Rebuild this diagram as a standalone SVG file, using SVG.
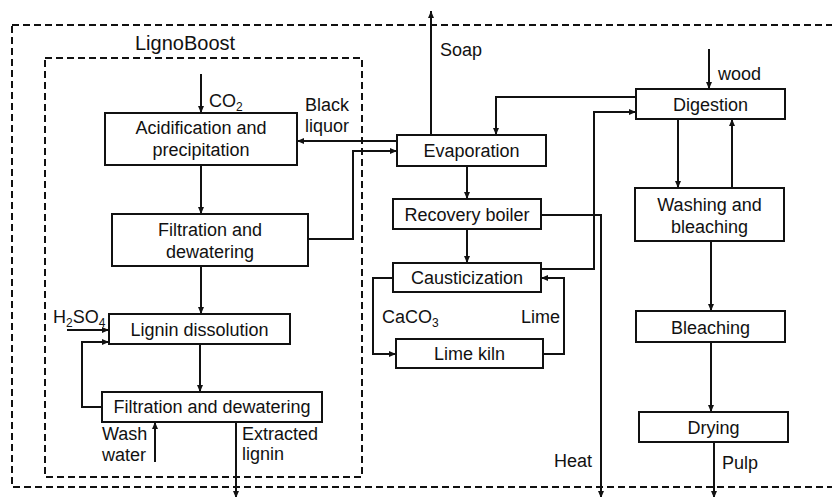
<svg xmlns="http://www.w3.org/2000/svg" width="832" height="497" viewBox="0 0 832 497">
<defs>
<marker id="ah" markerWidth="8" markerHeight="7" refX="7" refY="3.5" orient="auto" markerUnits="userSpaceOnUse">
<path d="M0,0.5 L7,3.5 L0,6.5 z" fill="#111"/>
</marker>
<style>
text{font-family:"Liberation Sans",Arial,sans-serif;font-size:18px;fill:#111}
.c{text-anchor:middle}
.box{fill:#fff;stroke:#111;stroke-width:2}
.dash{fill:none;stroke:#111;stroke-width:2;stroke-dasharray:7 4}
.ln{fill:none;stroke:#111;stroke-width:2}
.ar{fill:none;stroke:#111;stroke-width:2;marker-end:url(#ah)}
.sub{font-size:12px}
</style>
</defs>
<rect width="832" height="497" fill="#fff"/>
<g id="boundaries">
<rect class="dash" x="12" y="25" width="840" height="462"/>
<rect class="dash" x="45" y="58" width="317" height="419"/>
<text x="135" y="50" style="font-size:20px">LignoBoost</text>
</g>
<g id="connectors">
<path class="ar" d="M201,74 V113"/>
<path class="ar" d="M201,165 V214"/>
<path class="ar" d="M308,239 H353 V151 H397"/>
<path class="ar" d="M397,141 H297"/>
<path class="ar" d="M201,266 V314"/>
<path class="ar" d="M67,330 H109"/>
<path class="ar" d="M102,407 H82 V342 H109"/>
<path class="ar" d="M200,344 V392"/>
<path class="ar" d="M155,462 V422"/>
<path class="ar" d="M236,423 V498"/>
<path class="ar" d="M431,135 V11"/>
<path class="ar" d="M636,97 H496 V135"/>
<path class="ar" d="M467,166 V199"/>
<path class="ar" d="M541,215 H601 V498"/>
<path class="ar" d="M467,229 V263"/>
<path class="ar" d="M541,269 H594 V112 H636"/>
<path class="ar" d="M393,278 H373 V354 H396"/>
<path class="ar" d="M543,354 H564 V278 H541"/>
<path class="ar" d="M709,49 V89"/>
<path class="ar" d="M678,119 V188"/>
<path class="ar" d="M732,188 V119"/>
<path class="ar" d="M711,241 V311"/>
<path class="ar" d="M711,342 V412"/>
<path class="ar" d="M714,442 V498"/>
</g>
<g id="labels">
<text x="209" y="107">CO<tspan class="sub" dy="4">2</tspan></text>
<text x="305" y="111">Black</text>
<text x="305" y="132">liquor</text>
<text x="53" y="323">H<tspan class="sub" dy="4">2</tspan><tspan dy="-4">SO</tspan><tspan class="sub" dy="4">4</tspan></text>
<text x="102" y="440">Wash</text>
<text x="102" y="461">water</text>
<text x="242" y="440">Extracted</text>
<text x="242" y="460">lignin</text>
<text x="440" y="56">Soap</text>
<text x="718" y="80">wood</text>
<text x="382" y="323">CaCO<tspan class="sub" dy="4">3</tspan></text>
<text x="521" y="323">Lime</text>
<text x="554" y="467">Heat</text>
<text x="722" y="469">Pulp</text>
</g>
<g id="acidification">
<rect class="box" x="105" y="113" width="192" height="52"/>
<text class="c" x="201" y="134">Acidification and</text>
<text class="c" x="201" y="156">precipitation</text>
</g>
<g id="filtration1">
<rect class="box" x="112" y="214" width="196" height="52"/>
<text class="c" x="210" y="236">Filtration and</text>
<text class="c" x="210" y="258">dewatering</text>
</g>
<g id="lignin-dissolution">
<rect class="box" x="109" y="314" width="181" height="30"/>
<text class="c" x="199.5" y="336">Lignin dissolution</text>
</g>
<g id="filtration2">
<rect class="box" x="102" y="392" width="220" height="30"/>
<text class="c" x="212" y="413">Filtration and dewatering</text>
</g>
<g id="evaporation">
<rect class="box" x="397" y="135" width="149" height="31"/>
<text class="c" x="471.5" y="157">Evaporation</text>
</g>
<g id="recovery-boiler">
<rect class="box" x="393" y="199" width="148" height="30"/>
<text class="c" x="467" y="220.5">Recovery boiler</text>
</g>
<g id="causticization">
<rect class="box" x="393" y="263" width="148" height="29"/>
<text class="c" x="467" y="284">Causticization</text>
</g>
<g id="lime-kiln">
<rect class="box" x="396" y="339" width="147" height="29"/>
<text class="c" x="469.5" y="360">Lime kiln</text>
</g>
<g id="digestion">
<rect class="box" x="636" y="89" width="149" height="30"/>
<text class="c" x="710.5" y="111">Digestion</text>
</g>
<g id="washing">
<rect class="box" x="635" y="188" width="149" height="53"/>
<text class="c" x="709.5" y="211">Washing and</text>
<text class="c" x="709.5" y="233">bleaching</text>
</g>
<g id="bleaching">
<rect class="box" x="636" y="311" width="149" height="31"/>
<text class="c" x="710.5" y="334">Bleaching</text>
</g>
<g id="drying">
<rect class="box" x="639" y="412" width="149" height="30"/>
<text class="c" x="713.5" y="433.5">Drying</text>
</g>
</svg>
